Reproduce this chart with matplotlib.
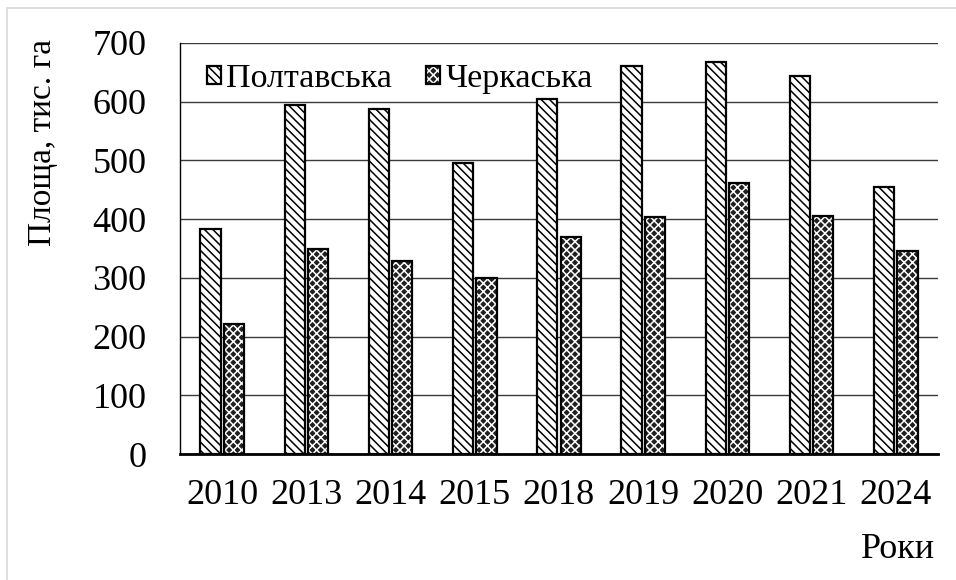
import numpy as np
import matplotlib
matplotlib.use("Agg")
import matplotlib.pyplot as plt
from matplotlib.patches import Rectangle

years = ["2010", "2013", "2014", "2015", "2018", "2019", "2020", "2021", "2024"]
poltavska = [384, 594, 588, 496, 604, 661, 667, 644, 455]
cherkaska = [222, 349, 328, 299, 370, 403, 461, 405, 346]

plt.rcParams["font.family"] = ["Liberation Serif", "DejaVu Serif"]
plt.rcParams["hatch.linewidth"] = 1.1

fig = plt.figure(figsize=(9.56, 5.8), dpi=100)
ax = fig.add_axes([0.1883, 0.2172, 0.7927, 0.7087])

x = np.arange(len(years))
w = 0.24
off = 0.139

b1 = ax.bar(x - off, poltavska, w, facecolor="white", edgecolor="black",
            hatch="\\\\\\\\", linewidth=1.6, zorder=3)
# dark fill with a light lattice, then a black outline drawn over it
b2f = ax.bar(x + off, cherkaska, w, facecolor="#202020", edgecolor="white",
             hatch="xxxx", linewidth=0, zorder=3)
b2o = ax.bar(x + off, cherkaska, w, fill=False, edgecolor="black",
             linewidth=1.6, zorder=4)

ax.set_xlim(-0.5, len(years) - 0.5)
ax.set_ylim(0, 700)
ax.set_yticks(np.arange(0, 701, 100))
ax.set_xticks(x)
ax.set_xticklabels(years)
ax.tick_params(axis="both", length=0, labelsize=26)
ax.tick_params(axis="y", pad=24)
ax.tick_params(axis="x", pad=18)

ax.grid(axis="y", color="#3a3a3a", linewidth=1.0, zorder=0)
ax.set_axisbelow(True)
for s in ("top", "right"):
    ax.spines[s].set_visible(False)
ax.spines["bottom"].set_linewidth(2.0)
ax.spines["bottom"].set_zorder(5)
ax.spines["left"].set_linewidth(1.0)

ax.set_ylabel("Площа, тис. га", fontsize=24)
ax.yaxis.set_label_coords(-0.161, 0.757)
ax.set_xlabel("Роки", fontsize=26, ha="right")
ax.xaxis.set_label_coords(0.997, -0.192)

ax.legend([b1[0], (b2f[0], b2o[0])], ["Полтавська", "Черкаська"],
          loc="center left", bbox_to_anchor=(0.035, 0.912), ncol=2,
          frameon=False, fontsize=24.5, handlelength=0.42, handleheight=0.42,
          handletextpad=0.15, columnspacing=1.0, borderpad=0, borderaxespad=0)

fig.patches.append(Rectangle((7 / 956, -0.1), 1.2, 1 - 8 / 580 + 0.1,
                             transform=fig.transFigure, fill=False,
                             edgecolor="#d9d9d9", linewidth=1.2))

fig.savefig("out.png", dpi=100)
